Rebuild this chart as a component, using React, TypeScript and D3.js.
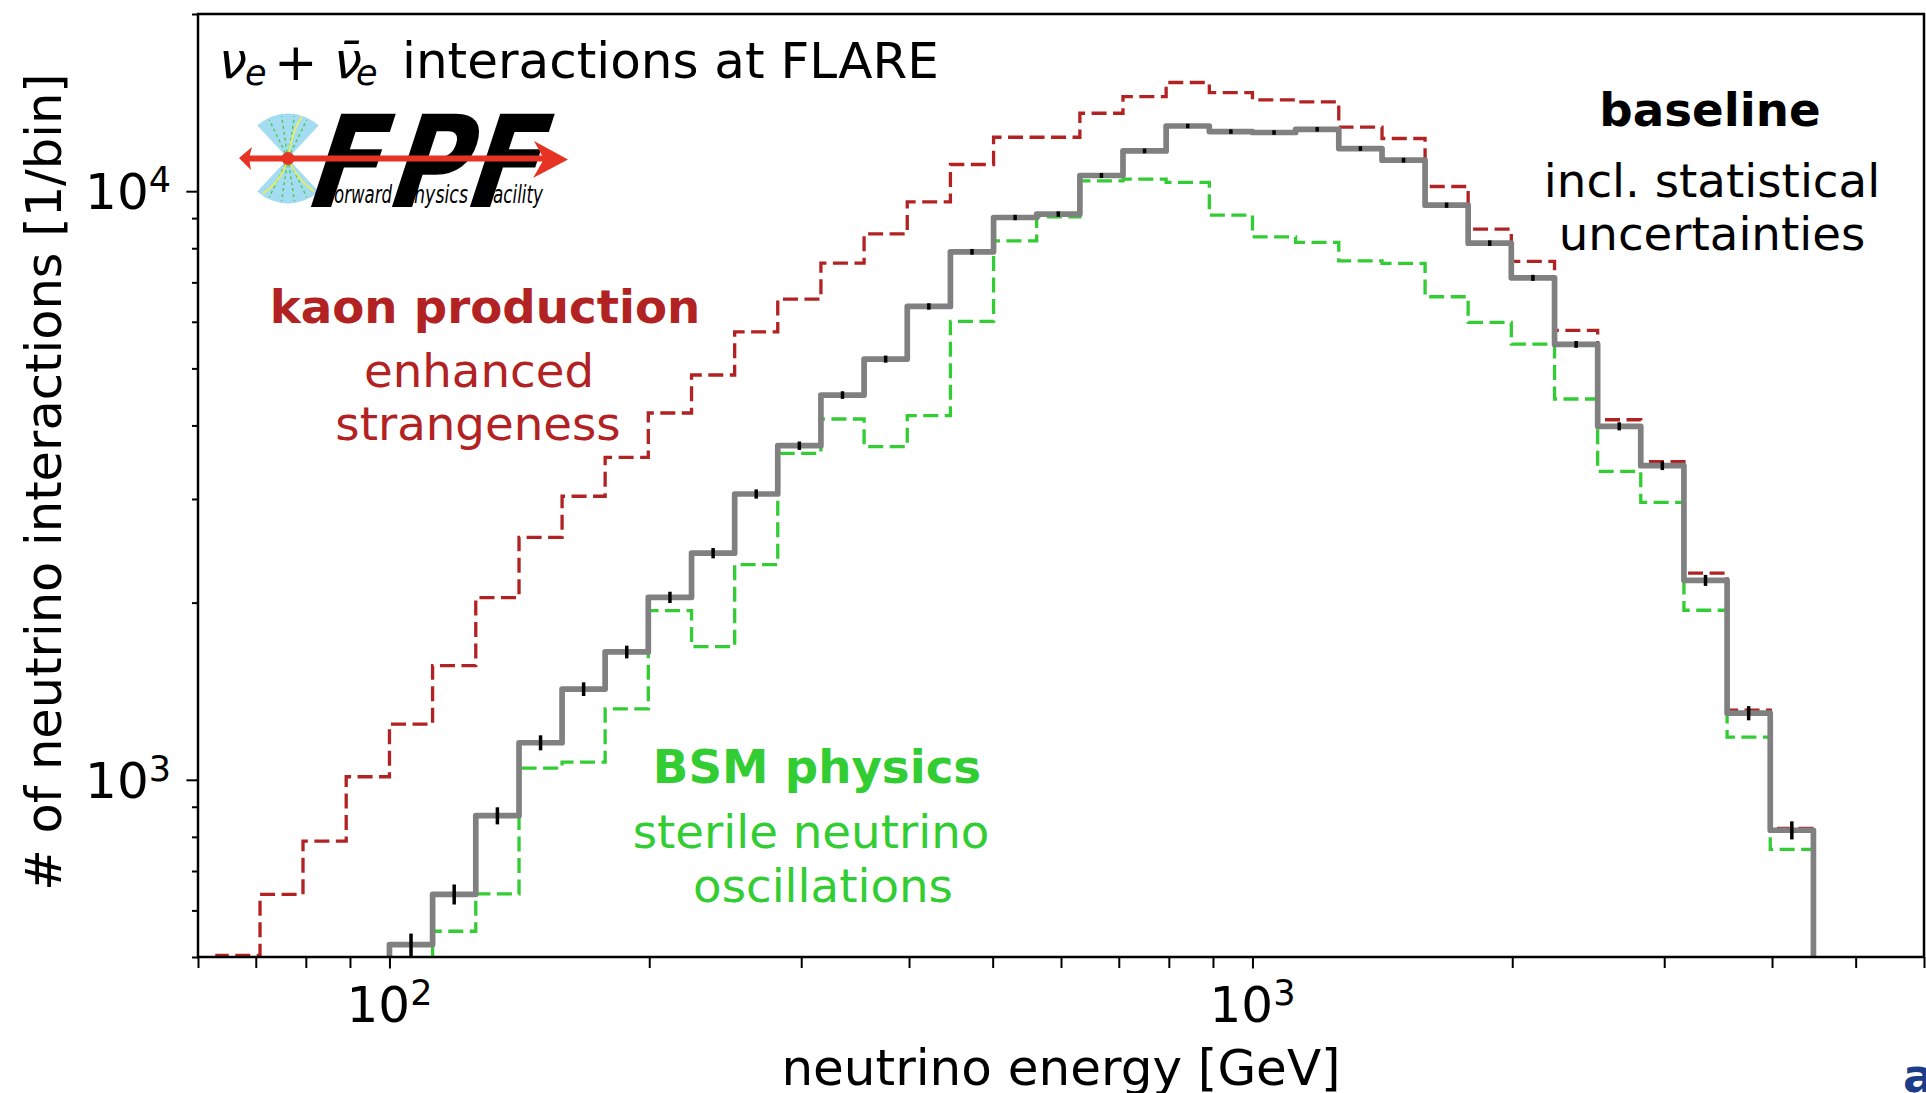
import React, { useEffect, useRef } from 'react';
import * as d3 from 'd3';

// log-spaced bin edges [GeV], 20 bins per decade (10^1.80 ... 10^3.65)
const binEdges = [63.1, 70.8, 79.4, 89.1, 100, 112.2, 125.9, 141.3, 158.5, 177.8, 199.5, 223.9, 251.2, 281.8, 316.2, 354.8, 398.1, 446.7, 501.2, 562.3, 631.0, 707.9, 794.3, 891.3, 1000, 1122, 1259, 1413, 1585, 1778, 1995, 2239, 2512, 2818, 3162, 3548, 3981, 4467];

// kaon production / enhanced strangeness, first bin at binEdges[0]
const kaonCounts = [503, 639, 787, 1012, 1243, 1563, 2039, 2582, 3032, 3531, 4199, 4872, 5769, 6555, 7547, 8464, 9590, 11100, 12350, 12350, 13565, 14480, 15300, 14710, 14290, 14180, 12844, 12290, 10185, 8619, 7597, 5801, 4090, 3470, 2244, 1313, 827];

// baseline, first bin at binEdges[4]
const baselineCounts = [525, 639, 869, 1156, 1426, 1649, 2042, 2427, 3059, 3695, 4505, 5185, 6371, 7889, 9022, 9142, 10634, 11706, 12906, 12626, 12580, 12740, 11816, 11290, 9467, 8161, 7125, 5492, 3986, 3417, 2182, 1298, 821];
const baselineErr = [23, 25, 29, 34, 38, 41, 45, 49, 55, 61, 67, 72, 80, 89, 95, 96, 103, 108, 114, 112, 112, 113, 109, 106, 97, 90, 84, 74, 63, 58, 47, 36, 29];

// BSM / sterile neutrino oscillations, first bin at binEdges[5]
const bsmCounts = [553, 640, 1047, 1072, 1320, 1939, 1684, 2320, 3587, 4102, 3681, 4155, 6009, 8233, 9047, 10411, 10480, 10347, 9107, 8363, 8184, 7616, 7539, 6617, 5985, 5498, 4436, 3343, 2961, 1941, 1182, 762];

const xMajorTicks = [100, 1000];
const xMajorExp = ['2', '3'];
const xMinorTicks = [60, 70, 80, 90, 200, 300, 400, 500, 600, 700, 800, 900, 2000, 3000, 4000, 5000, 6000];
const yMajorTicks = [1000, 10000];
const yMajorExp = ['3', '4'];
const yMinorTicks = [500, 600, 700, 800, 900, 2000, 3000, 4000, 5000, 6000, 7000, 8000, 9000, 20000];

const W = 1926;
const H = 1093;

function App() {
  const ref = useRef<SVGSVGElement>(null);

  useEffect(() => {
    const svg = d3.select(ref.current);
    svg.selectAll('*').remove();

    const box = { left: 198, right: 1924, top: 14, bottom: 957 };
    const x = d3.scaleLog().domain([60, 6000]).range([box.left, box.right]);
    const y = d3.scaleLog().domain([500, 20000]).range([box.bottom, box.top]);
    const font = 'DejaVu Sans, sans-serif';

    svg.append('rect').attr('width', W).attr('height', H).attr('fill', '#fff');

    svg.append('defs').append('clipPath').attr('id', 'plotArea')
      .append('rect')
      .attr('x', box.left).attr('y', box.top)
      .attr('width', box.right - box.left).attr('height', box.bottom - box.top);

    const stepLine = d3.line<number[]>()
      .x(d => x(d[0]))
      .y(d => y(d[1]))
      .curve(d3.curveStepAfter);

    // histtype='step' style outline, starts and ends below the axis floor
    const stepPoints = (counts: number[], first: number) => {
      const last = first + counts.length;
      const pts = [[binEdges[first], 300]];
      counts.forEach((c, i) => pts.push([binEdges[first + i], c]));
      pts.push([binEdges[last], counts[counts.length - 1]]);
      pts.push([binEdges[last], 300]);
      return pts;
    };

    const plot = svg.append('g').attr('clip-path', 'url(#plotArea)');

    plot.append('path')
      .attr('d', stepLine(stepPoints(bsmCounts, 5)))
      .attr('fill', 'none')
      .attr('stroke', '#32cd32')
      .attr('stroke-width', 3.3)
      .attr('stroke-dasharray', '15 6.5');

    plot.append('path')
      .attr('d', stepLine(stepPoints(kaonCounts, 0)))
      .attr('fill', 'none')
      .attr('stroke', '#b22222')
      .attr('stroke-width', 3.3)
      .attr('stroke-dasharray', '15 6.5');

    plot.append('path')
      .attr('d', stepLine(stepPoints(baselineCounts, 4)))
      .attr('fill', 'none')
      .attr('stroke', '#808080')
      .attr('stroke-width', 5.7)
      .attr('stroke-linejoin', 'round');

    // statistical errors at the (geometric) bin centres
    plot.selectAll('.err')
      .data(baselineCounts)
      .join('line')
      .attr('class', 'err')
      .attr('x1', (d, i) => x(Math.sqrt(binEdges[4 + i] * binEdges[5 + i])))
      .attr('x2', (d, i) => x(Math.sqrt(binEdges[4 + i] * binEdges[5 + i])))
      .attr('y1', (d, i) => y(d - baselineErr[i]))
      .attr('y2', (d, i) => y(d + baselineErr[i]))
      .attr('stroke', '#000')
      .attr('stroke-width', 3.5);

    // axes
    const styleAxis = g => {
      g.select('.domain').remove();
      g.selectAll('line').attr('stroke', '#000').attr('stroke-width', 2);
    };
    svg.append('g').attr('transform', `translate(0,${box.bottom})`)
      .call(d3.axisBottom(x).tickValues(xMinorTicks).tickSize(11).tickFormat(() => ''))
      .call(styleAxis);
    svg.append('g').attr('transform', `translate(0,${box.bottom})`)
      .call(d3.axisBottom(x).tickValues(xMajorTicks).tickSize(11.5).tickFormat(() => ''))
      .call(styleAxis);
    svg.append('g').attr('transform', `translate(${box.left},0)`)
      .call(d3.axisLeft(y).tickValues(yMinorTicks).tickSize(6).tickFormat(() => ''))
      .call(styleAxis);
    svg.append('g').attr('transform', `translate(${box.left},0)`)
      .call(d3.axisLeft(y).tickValues(yMajorTicks).tickSize(11.6).tickFormat(() => ''))
      .call(styleAxis);

    xMajorTicks.forEach((v, i) => {
      const t = svg.append('text')
        .attr('x', x(v)).attr('y', 1022)
        .attr('text-anchor', 'middle')
        .attr('font-family', font).attr('font-size', 50);
      t.append('tspan').text('10');
      t.append('tspan').attr('font-size', 35).attr('dy', -17).text(xMajorExp[i]);
    });
    yMajorTicks.forEach((v, i) => {
      const t = svg.append('text')
        .attr('x', 171).attr('y', y(v) + 18)
        .attr('text-anchor', 'end')
        .attr('font-family', font).attr('font-size', 50);
      t.append('tspan').text('10');
      t.append('tspan').attr('font-size', 35).attr('dy', -17).text(yMajorExp[i]);
    });

    svg.append('text')
      .attr('x', (box.left + box.right) / 2).attr('y', 1085)
      .attr('text-anchor', 'middle')
      .attr('font-family', font).attr('font-size', 50)
      .text('neutrino energy [GeV]');
    svg.append('text')
      .attr('transform', `translate(61,482) rotate(-90)`)
      .attr('text-anchor', 'middle')
      .attr('font-family', font).attr('font-size', 49.5)
      .text('# of neutrino interactions [1/bin]');

    // title
    const title = svg.append('text').attr('y', 78).attr('font-family', font).attr('font-size', 50);
    title.append('tspan').attr('x', 219).attr('font-style', 'italic').text('ν');
    title.append('tspan').attr('x', 245).attr('y', 85).attr('font-size', 35).attr('font-style', 'italic').text('e');
    title.append('tspan').attr('x', 274).attr('y', 80).attr('font-size', 52).text('+');
    title.append('tspan').attr('x', 334).attr('y', 78).attr('font-style', 'italic').text('ν\u0304');
    title.append('tspan').attr('x', 356).attr('y', 85).attr('font-size', 35).attr('font-style', 'italic').text('e');
    title.append('tspan').attr('x', 402).attr('y', 78).text('interactions at FLARE');

    // annotations
    const note = (txt, cx, by, color, bold = false) =>
      svg.append('text')
        .attr('x', cx).attr('y', by)
        .attr('text-anchor', 'middle')
        .attr('font-family', font).attr('font-size', 46.7)
        .attr('font-weight', bold ? 'bold' : 'normal')
        .attr('fill', color)
        .text(txt);
    note('kaon production', 485, 323, '#b22222', true);
    note('enhanced', 479, 387, '#b22222');
    note('strangeness', 478, 440, '#b22222');
    note('BSM physics', 817, 783, '#32cd32', true);
    note('sterile neutrino', 811, 848, '#32cd32');
    note('oscillations', 823, 902, '#32cd32');
    note('baseline', 1710, 126, '#000', true);
    note('incl. statistical', 1712, 197, '#000');
    note('uncertainties', 1712, 250, '#000');

    // FPF logo
    const logo = svg.append('g');
    const cx = 288, cy = 158.5;
    const fan = d3.arc();
    logo.append('path')
      .attr('transform', `translate(${cx},${cy})`)
      .attr('d', fan({ innerRadius: 0, outerRadius: 45, startAngle: -0.75, endAngle: 0.75 }))
      .attr('fill', '#a4dcf2');
    logo.append('path')
      .attr('transform', `translate(${cx},${cy})`)
      .attr('d', fan({ innerRadius: 0, outerRadius: 45, startAngle: Math.PI - 0.75, endAngle: Math.PI + 0.75 }))
      .attr('fill', '#a4dcf2');
    [-0.45, -0.15, 0.15, 0.45].forEach(a => {
      [0, Math.PI].forEach(base => {
        logo.append('line')
          .attr('x1', cx).attr('y1', cy)
          .attr('x2', cx + 43 * Math.sin(base + a)).attr('y2', cy - 43 * Math.cos(base + a))
          .attr('stroke', '#4cc84c').attr('stroke-width', 1.4).attr('stroke-dasharray', '3 3');
      });
    });
    logo.append('path').attr('d', `M${cx},${cy} Q${cx + 4},${cy - 28} ${cx + 14},${cy - 42}`)
      .attr('fill', 'none').attr('stroke', '#eeee55').attr('stroke-width', 1.6);
    logo.append('path').attr('d', `M${cx},${cy} Q${cx - 6},${cy + 22} ${cx - 25},${cy + 35}`)
      .attr('fill', 'none').attr('stroke', '#eeee55').attr('stroke-width', 1.6);
    logo.append('path').attr('d', `M${cx},${cy} Q${cx + 8},${cy + 20} ${cx + 26},${cy + 33}`)
      .attr('fill', 'none').attr('stroke', '#eeee55').attr('stroke-width', 1.6);

    const letters = [['F', 301], ['P', 382], ['F', 460]];
    letters.forEach(([ch, lx]) => {
      logo.append('text')
        .attr('transform', `translate(${lx},207) skewX(-18) scale(0.84,1)`)
        .attr('font-family', font).attr('font-weight', 'bold').attr('font-size', 128)
        .attr('fill', '#000')
        .text(ch);
    });
    const small = [['orward', 334, 58], ['hysics', 414, 54], ['acility', 493, 50]];
    small.forEach(([w, sx, len]) => {
      logo.append('text')
        .attr('x', sx).attr('y', 203)
        .attr('font-family', font).attr('font-style', 'italic').attr('font-size', 24)
        .attr('textLength', len).attr('lengthAdjust', 'spacingAndGlyphs')
        .attr('fill', '#000')
        .text(w);
    });

    logo.append('line')
      .attr('x1', 246).attr('y1', cy).attr('x2', 548).attr('y2', cy)
      .attr('stroke', '#e63323').attr('stroke-width', 6);
    logo.append('polygon')
      .attr('points', '534,141 568,159.5 533,178 544,159')
      .attr('fill', '#e63323');
    logo.append('polygon')
      .attr('points', '239,158 252,147 249,158 251,170')
      .attr('fill', '#e63323');
    logo.append('circle').attr('cx', cx).attr('cy', cy).attr('r', 6.5).attr('fill', '#e63323');

    // frame on top
    svg.append('rect')
      .attr('x', box.left).attr('y', box.top)
      .attr('width', box.right - box.left).attr('height', box.bottom - box.top)
      .attr('fill', 'none').attr('stroke', '#000').attr('stroke-width', 2.5);

    // clipped corner of another logo in the source picture
    svg.append('text')
      .attr('x', 1903).attr('y', 1092)
      .attr('font-family', font).attr('font-weight', 'bold').attr('font-size', 46)
      .attr('fill', '#1b3c87')
      .text('a');
  }, []);

  return (
    <svg ref={ref} width={W} height={H}
      style={{ position: 'absolute', left: 0, top: 0, display: 'block' }} />
  );
}

export default App;
